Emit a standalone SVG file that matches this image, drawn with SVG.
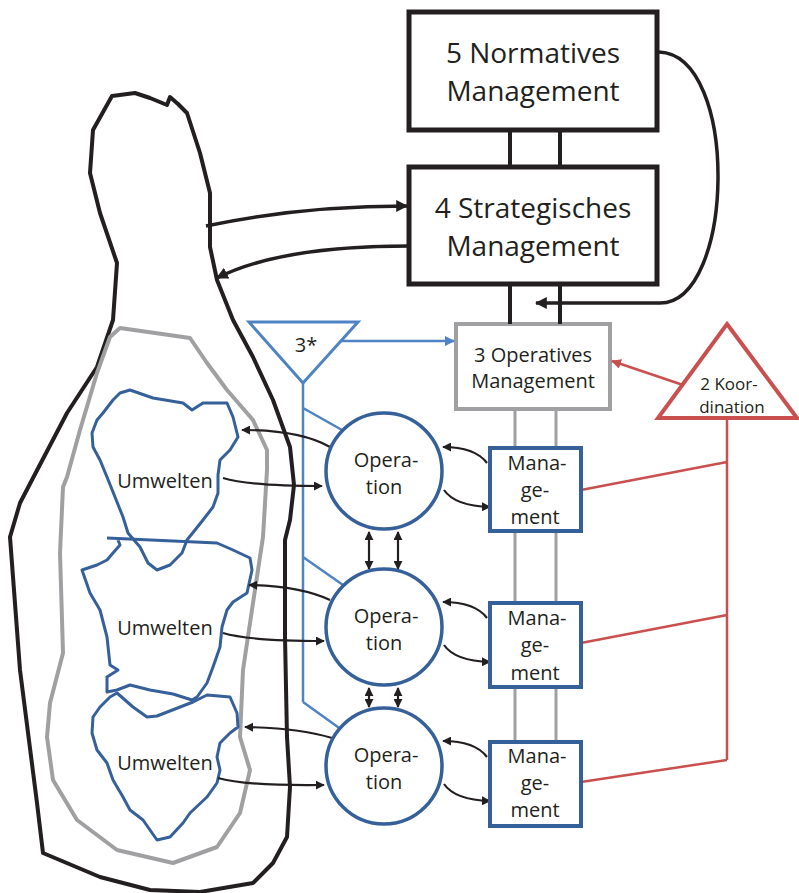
<svg xmlns="http://www.w3.org/2000/svg" width="799" height="893" viewBox="0 0 799 893">
<style>
text{font-family:"Open Sans","Noto Sans","Liberation Sans",sans-serif;fill:#231f20;text-anchor:middle}
.big{font-size:28px}
.mid{font-size:20px}
.sm{font-size:17px}
.box5{fill:#fff;stroke:#231f20;stroke-width:5}
.blk{fill:none;stroke:#231f20;stroke-width:3.5}
.blob{fill:none;stroke:#231f20;stroke-width:4;stroke-linejoin:round}
.gblob{fill:none;stroke:#a0a0a2;stroke-width:4;stroke-linejoin:round}
.bblob{fill:none;stroke:#35609a;stroke-width:3;stroke-linejoin:round}
.op{fill:#fff;stroke:#35609a;stroke-width:3.5}
.mg{fill:#fff;stroke:#35609a;stroke-width:4}
.gl{fill:none;stroke:#a0a0a2;stroke-width:3}
.lb{fill:none;stroke:#4f83c4;stroke-width:2.5}
.red{fill:none;stroke:#c9504e;stroke-width:2.5}
.thin{fill:none;stroke:#231f20;stroke-width:2.2}
</style>
<defs>
<marker id="ab" viewBox="0 0 10 10" refX="9" refY="5" markerWidth="12" markerHeight="12" markerUnits="userSpaceOnUse" orient="auto-start-reverse"><path d="M0,0 L10,5 L0,10 z" fill="#231f20"/></marker>
<marker id="ab2" viewBox="0 0 10 10" refX="9" refY="5" markerWidth="9" markerHeight="9" markerUnits="userSpaceOnUse" orient="auto-start-reverse"><path d="M0,0 L10,5 L0,10 z" fill="#231f20"/></marker>
<marker id="abl" viewBox="0 0 10 10" refX="9" refY="5" markerWidth="10" markerHeight="10" markerUnits="userSpaceOnUse" orient="auto"><path d="M0,0 L10,5 L0,10 z" fill="#4f83c4"/></marker>
<marker id="ar" viewBox="0 0 10 10" refX="9" refY="5" markerWidth="10" markerHeight="10" markerUnits="userSpaceOnUse" orient="auto"><path d="M0,0 L10,5 L0,10 z" fill="#c9504e"/></marker>
</defs>

<g id="environment">
<path class="blob" d="M112,96 L135,93 L150,98 L167,105 L170,97 L178,104 L187,113 L200,153 L210,193 L210,247 L217,280 L233,320 L253,357 L273,400 L290,447 L294,485 L290,520 L285,540 L285,637 L287,737 L290,787 L287,837 L273,863 L253,883 L200,892 L150,890 L100,877 L43,853 L37,803 L20,670 L10,537 L20,503 L33,478 L67,413 L97,367 L113,320 L117,263 L100,213 L90,173 L93,130 Z"/>
<path class="gblob" d="M120,328 L190,338 L207,363 L227,390 L253,420 L267,450 L267,470 L263,537 L253,603 L243,670 L240,737 L250,770 L240,813 L217,847 L173,863 L117,850 L77,820 L53,780 L47,737 L50,703 L63,653 L60,553 L63,487 L67,477 L80,430 L97,373 L110,337 Z"/>
<path class="bblob" d="M130,390 L153,398 L183,403 L192,410 L203,403 L227,403 L233,417 L238,437 L230,450 L220,460 L218,475 L218,493 L213,507 L203,520 L187,540 L182,553 L170,565 L157,570 L148,563 L140,547 L128,533 L123,517 L115,497 L107,477 L100,460 L93,447 L92,433 L97,420 L103,413 L113,400 L120,393 Z"/>
<path class="bblob" d="M107,538 L217,543 L233,550 L250,558 L252,570 L247,593 L233,602 L227,610 L222,627 L220,647 L213,667 L207,683 L197,697 L192,700 L173,694 L150,690 L130,685 L117,690 L107,692 L107,677 L118,670 L110,665 L107,637 L100,610 L90,593 L82,570 L97,565 L107,560 L113,553 L120,545 L118,540"/>
<path class="bblob" d="M117,693 L133,707 L147,717 L157,716 L193,702 L207,695 L230,697 L237,713 L238,727 L230,733 L220,743 L217,757 L220,770 L217,783 L207,797 L190,813 L183,823 L170,837 L157,840 L150,830 L143,820 L130,810 L123,797 L113,780 L107,763 L97,750 L92,733 L93,717 L100,707 L110,697 Z"/>
<text class="mid" x="165" y="488">Umwelten</text>
<text class="mid" x="165" y="635">Umwelten</text>
<text class="mid" x="165" y="770">Umwelten</text>
</g>

<g id="n5">
<rect class="box5" x="409" y="12" width="248" height="118"/>
<text class="big" x="533" y="63">5 Normatives</text>
<text class="big" x="533" y="101">Management</text>
</g>
<g id="n4">
<rect class="box5" x="409" y="167" width="248" height="117"/>
<text class="big" x="533" y="218">4 Strategisches</text>
<text class="big" x="533" y="256">Management</text>
</g>
<g id="n3">
<rect x="456" y="324" width="154" height="85" fill="#fff" stroke="#a0a0a2" stroke-width="4"/>
<text class="mid" x="533" y="362">3 Operatives</text>
<text class="mid" x="533" y="388">Management</text>
</g>
<g id="n3star">
<path d="M249,322 L358,322 L303,383 Z" fill="#fff" stroke="#4f83c4" stroke-width="3" stroke-linejoin="miter"/>
<text class="mid" x="306" y="352">3*</text>
</g>
<g id="n2">
<path d="M727,324 L797,418 L658,418 Z" fill="#fff" stroke="#c9504e" stroke-width="4" stroke-linejoin="miter"/>
<text class="sm" x="729" y="390">2 Koor-</text>
<text class="sm" x="732" y="413">dination</text>
</g>

<g id="connectors">
<path d="M510,132 V167 M560,132 V167 M510,284 V324 M560,284 V324" fill="none" stroke="#231f20" stroke-width="4"/>
<path class="blk" d="M659,52 C740,55 735,303 660,303 L536,303" marker-end="url(#ab)"/>
<path class="blk" d="M206,226 Q300,206 407,206" marker-end="url(#ab)"/>
<path class="blk" d="M409,246 Q280,246 217,278" marker-end="url(#ab)"/>
<path class="gl" d="M515,409 V448 M556,409 V448 M515,531 V603 M556,531 V603 M515,687 V742 M556,687 V742"/>
<path class="lb" d="M340,341 L454,341" marker-end="url(#abl)"/>
<path class="lb" d="M303,383 V702 M303,408 L342,430 M303,557 L343,585 M303,702 L342,730"/>
<path class="red" d="M683,385 L612,361" marker-end="url(#ar)"/>
<path class="red" d="M727,418 V760 M581,490 L727,462 M581,643 L727,615 M581,782 L727,760"/>
<path class="thin" d="M369,532 V569" marker-start="url(#ab2)" marker-end="url(#ab2)"/>
<path class="thin" d="M398,532 V569" marker-start="url(#ab2)" marker-end="url(#ab2)"/>
<path class="thin" d="M369,688 V707" marker-start="url(#ab2)" marker-end="url(#ab2)"/>
<path class="thin" d="M398,688 V707" marker-start="url(#ab2)" marker-end="url(#ab2)"/>
<path class="thin" d="M487,463 Q475,447 443,447" marker-end="url(#ab2)"/>
<path class="thin" d="M444,490 Q455,506 490,507" marker-end="url(#ab2)"/>
<path class="thin" d="M487,618 Q475,602 443,602" marker-end="url(#ab2)"/>
<path class="thin" d="M444,645 Q455,661 490,662" marker-end="url(#ab2)"/>
<path class="thin" d="M487,757 Q475,741 443,741" marker-end="url(#ab2)"/>
<path class="thin" d="M444,784 Q455,800 490,801" marker-end="url(#ab2)"/>
<path class="thin" d="M330,447 Q300,430 242,430" marker-end="url(#ab2)"/>
<path class="thin" d="M223,478 Q250,486 322,486" marker-end="url(#ab2)"/>
<path class="thin" d="M330,600 Q300,586 249,585" marker-end="url(#ab2)"/>
<path class="thin" d="M223,633 Q250,641 324,641" marker-end="url(#ab2)"/>
<path class="thin" d="M332,738 Q300,728 245,727" marker-end="url(#ab2)"/>
<path class="thin" d="M218,778 Q245,786 324,785" marker-end="url(#ab2)"/>
</g>

<g id="op1"><circle class="op" cx="384" cy="471" r="58"/><text class="mid" x="386" y="467">Opera-</text><text class="mid" x="384" y="494">tion</text></g>
<g id="op2"><circle class="op" cx="384" cy="627" r="58"/><text class="mid" x="386" y="623">Opera-</text><text class="mid" x="384" y="650">tion</text></g>
<g id="op3"><circle class="op" cx="384" cy="766" r="58"/><text class="mid" x="386" y="762">Opera-</text><text class="mid" x="384" y="789">tion</text></g>

<g id="mg1"><rect class="mg" x="490" y="448" width="91" height="83"/><text class="mid" x="537" y="470">Mana-</text><text class="mid" x="535" y="497">ge-</text><text class="mid" x="535" y="524">ment</text></g>
<g id="mg2"><rect class="mg" x="490" y="603" width="91" height="84"/><text class="mid" x="537" y="625">Mana-</text><text class="mid" x="535" y="652">ge-</text><text class="mid" x="535" y="680">ment</text></g>
<g id="mg3"><rect class="mg" x="490" y="742" width="91" height="84"/><text class="mid" x="537" y="763">Mana-</text><text class="mid" x="535" y="790">ge-</text><text class="mid" x="535" y="817">ment</text></g>
</svg>
